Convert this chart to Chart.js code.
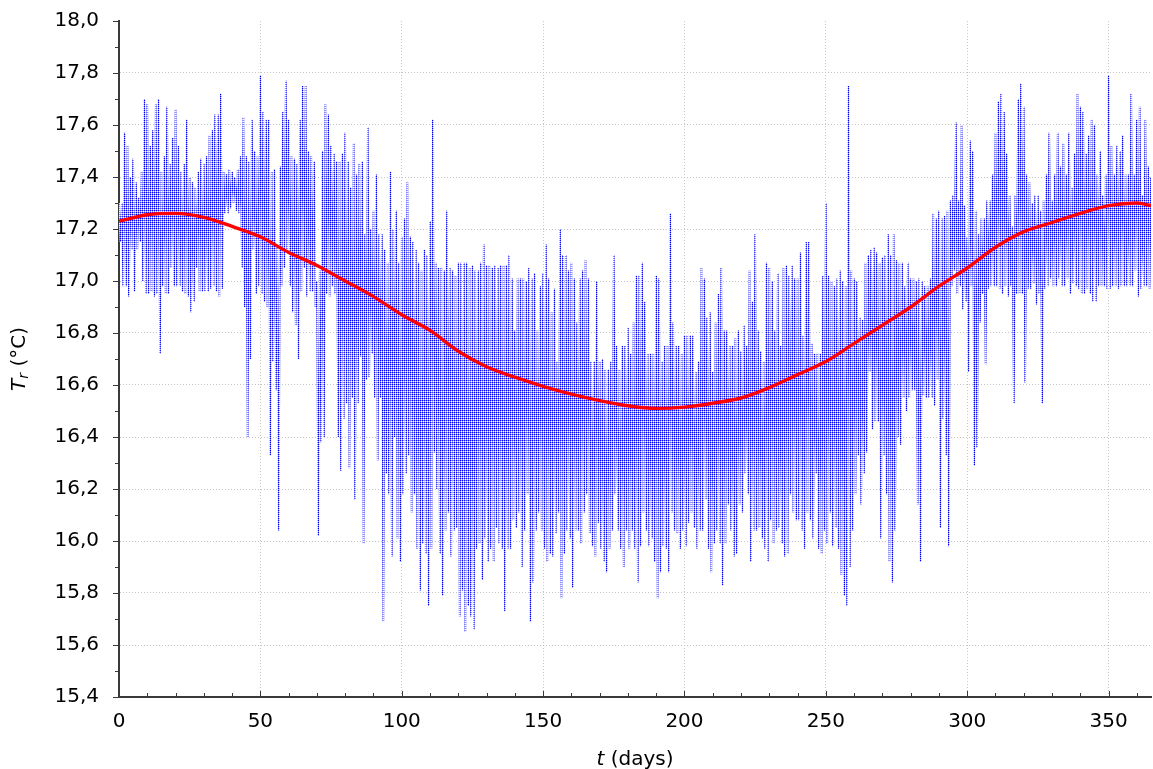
<!DOCTYPE html>
<html><head><meta charset="utf-8">
<script src="https://cdn.jsdelivr.net/npm/chart.js@4.4.1/dist/chart.umd.min.js"></script>
<style>html,body{margin:0;padding:0;background:#fff;}canvas{display:block;}</style>
</head><body>
<canvas id="c" width="1153" height="769"></canvas>
<script>
// Daily upper envelope of the measured series (one value per day, 0..365)
const blueHigh = [
17.30,17.30,17.57,17.52,17.40,17.47,17.38,17.32,17.42,17.70,
17.68,17.52,17.58,17.68,17.70,17.42,17.48,17.67,17.45,17.55,
17.66,17.52,17.42,17.45,17.62,17.40,17.38,17.36,17.42,17.47,
17.45,17.48,17.56,17.58,17.64,17.64,17.72,17.42,17.41,17.43,
17.42,17.40,17.43,17.48,17.63,17.48,17.46,17.62,17.50,17.48,
17.79,17.65,17.62,17.62,17.42,17.43,17.14,17.44,17.65,17.77,
17.62,17.48,17.47,17.45,17.62,17.75,17.75,17.50,17.48,17.46,
17.00,17.04,17.50,17.68,17.64,17.52,17.49,17.46,17.46,17.49,
17.57,17.46,17.36,17.53,17.41,17.45,17.46,17.18,17.59,17.20,
17.27,17.41,17.18,17.18,17.12,17.07,17.42,17.20,17.27,17.07,
17.17,17.24,17.38,17.17,17.15,17.12,17.07,17.04,17.12,17.10,
17.23,17.62,17.07,17.05,17.05,17.04,17.27,17.05,17.04,17.02,
17.07,17.07,17.07,17.07,17.05,17.06,17.04,17.04,17.07,17.14,
17.06,17.06,17.05,17.06,17.05,17.06,17.06,17.06,17.10,17.01,
16.81,17.01,17.01,17.01,17.00,17.05,17.01,17.03,16.81,16.98,
17.03,17.14,17.01,16.88,16.97,16.69,17.20,17.10,17.10,17.04,
17.07,17.01,16.84,17.01,17.04,17.08,17.01,16.69,16.69,17.00,
16.69,16.70,16.66,16.66,16.69,17.10,16.75,16.66,16.75,16.75,
16.82,16.72,16.84,17.02,17.02,17.07,16.92,16.72,16.72,16.72,
17.02,17.01,16.69,16.75,16.75,17.26,16.84,16.75,16.75,16.72,
16.79,16.79,16.79,16.79,16.65,16.69,17.05,17.01,16.86,16.88,
16.65,16.84,16.95,17.05,16.81,16.81,16.75,16.75,16.78,16.81,
16.73,16.83,16.75,17.04,16.92,17.18,16.81,16.73,16.69,17.07,
17.05,17.00,16.81,17.03,16.75,17.05,17.06,17.02,17.06,17.01,
17.01,17.11,16.79,17.15,17.15,16.76,16.72,16.72,16.72,17.02,
17.30,17.02,17.00,16.98,17.01,17.04,17.00,16.98,17.75,17.04,
17.01,17.00,16.86,16.85,17.07,17.10,17.12,17.13,17.11,17.07,
17.09,17.10,17.18,17.10,17.18,17.08,17.07,17.07,16.98,17.07,
17.01,17.01,17.00,17.01,17.00,16.98,16.98,17.01,17.26,17.24,
17.27,17.24,17.25,17.27,17.31,17.33,17.61,17.31,17.60,17.29,
17.17,17.54,17.50,17.27,17.18,17.24,17.24,17.31,17.31,17.41,
17.57,17.69,17.72,17.65,17.49,17.33,17.21,17.33,17.70,17.76,
17.67,17.41,17.38,17.30,17.33,17.33,17.27,17.31,17.41,17.57,
17.31,17.41,17.57,17.44,17.53,17.41,17.57,17.36,17.49,17.72,
17.67,17.65,17.49,17.56,17.62,17.60,17.41,17.50,17.33,17.41,
17.79,17.52,17.41,17.52,17.50,17.56,17.41,17.41,17.72,17.41,
17.62,17.67,17.33,17.62,17.44,17.40
];
// Daily lower envelope of the measured series (one value per day, 0..365)
const blueLow = [
17.15,16.98,16.98,16.94,17.12,16.96,17.12,17.15,17.00,16.95,
16.95,16.96,16.94,16.95,16.72,16.98,16.95,16.95,17.05,16.98,
16.98,16.98,16.96,16.95,16.94,16.88,16.92,17.05,16.96,16.96,
16.96,16.96,16.97,16.98,16.96,16.94,16.97,17.26,17.26,17.28,
17.30,17.27,17.26,17.05,16.90,16.40,16.70,17.12,16.95,16.98,
16.95,16.92,16.90,16.33,16.69,16.58,16.04,16.98,17.05,17.12,
16.98,16.88,16.83,16.70,16.96,17.05,16.94,16.96,16.96,16.90,
16.02,16.38,16.40,16.95,16.94,16.98,16.95,16.40,16.27,16.47,
16.53,16.28,16.55,16.16,16.53,16.71,15.99,16.62,16.63,16.72,
16.55,16.31,16.55,15.69,16.26,16.18,15.94,16.40,16.01,15.92,
16.18,16.26,16.33,16.11,16.18,15.97,15.81,15.99,15.95,15.75,
15.97,16.34,16.20,15.95,15.79,16.04,16.11,15.94,16.04,16.05,
15.71,15.81,15.65,15.75,15.71,15.66,15.97,15.99,15.85,16.01,
15.92,15.97,15.92,16.05,15.99,15.97,15.73,15.97,15.97,16.08,
16.05,16.11,15.90,16.04,16.18,15.69,15.84,16.04,16.11,16.04,
15.97,15.92,15.95,15.94,16.03,16.11,15.78,15.95,16.04,16.01,
15.82,16.04,16.04,15.99,16.11,16.18,16.03,15.98,15.94,16.07,
15.97,15.92,15.88,15.97,16.04,16.18,16.04,15.97,15.90,16.04,
15.97,16.04,15.97,15.84,15.98,16.11,16.04,15.98,16.01,15.92,
15.78,15.88,15.98,15.97,15.88,16.11,16.04,16.03,15.97,16.04,
15.98,16.07,16.11,16.05,15.97,16.04,16.04,16.16,15.97,15.88,
15.99,16.04,15.99,15.83,15.99,16.14,16.04,15.94,15.95,16.14,
16.11,16.26,16.18,15.92,16.04,16.04,16.05,16.01,15.97,15.92,
16.08,15.99,16.04,16.05,15.99,15.94,15.95,16.18,16.11,16.08,
16.08,16.04,15.97,16.11,16.08,16.01,16.26,15.97,15.95,16.04,
15.99,16.11,15.98,16.05,15.97,15.87,15.79,15.75,15.90,16.04,
16.18,16.33,16.14,16.26,16.34,16.65,16.43,16.46,16.46,16.01,
16.33,16.18,15.92,15.84,16.04,16.40,16.37,16.55,16.50,16.55,
16.58,16.58,16.14,15.92,16.56,16.55,16.55,16.55,16.52,16.62,
16.05,16.47,16.33,15.98,16.98,17.04,16.95,16.98,16.89,16.92,
16.65,16.98,16.29,16.36,16.84,16.95,16.68,16.97,16.98,16.98,
16.98,16.97,16.95,16.98,16.94,16.98,16.53,16.95,16.95,16.95,
16.61,16.97,16.97,16.99,16.91,16.95,16.53,16.97,16.98,17.01,
16.98,16.98,17.01,16.98,16.98,17.01,16.95,16.99,16.98,16.97,
16.95,16.95,16.97,16.95,16.92,16.92,16.98,16.98,16.98,16.97,
16.97,16.98,16.98,16.97,16.98,16.98,16.98,16.98,16.98,17.04,
16.94,16.97,16.98,16.98,16.97,16.97
];
// Smooth seasonal fit (red curve)
const redDays   = [0,10,20,30,40,50,60,70,80,90,100,110,120,130,140,150,160,170,180,190,200,210,220,230,240,250,260,270,280,290,300,310,320,330,340,350,360,365];
const redValues = [17.23,17.255,17.26,17.245,17.21,17.17,17.11,17.06,17.00,16.94,16.87,16.81,16.73,16.67,16.63,16.595,16.565,16.54,16.52,16.51,16.515,16.53,16.55,16.59,16.64,16.69,16.76,16.83,16.90,16.98,17.05,17.13,17.19,17.225,17.26,17.29,17.30,17.29];

const xMin = 0, xMax = 365, xStep = 50, xMinorStep = 10;
const yMin = 15.4, yMax = 18.0, yStep = 0.2, yMinorStep = 0.1;
const xTitleVar = 't', xTitleUnit = ' (days)';
const yTitleVar = 'T', yTitleSub = 'r', yTitleUnit = ' (°C)';

const FONT = '"DejaVu Sans", Verdana, sans-serif';

const bluePts = [];
for (let d = 0; d < blueHigh.length; d++) {
  bluePts.push({x: d, y: blueHigh[d]});
  bluePts.push({x: d + 0.5, y: blueLow[d]});
}
const redPts = redDays.map((d, i) => ({x: d, y: redValues[i]}));

// dotted blue texture for the dense measured series
function dotPattern() {
  const off = document.createElement('canvas');
  off.width = 2; off.height = 2;
  const g = off.getContext('2d');
  g.fillStyle = '#ffffff'; g.fillRect(0, 0, 2, 2);
  g.fillStyle = '#0000ff'; g.fillRect(0, 0, 1, 1);
  g.fillStyle = '#9090ff'; g.fillRect(1, 0, 1, 1); g.fillRect(0, 1, 1, 1);
  return g.createPattern(off, 'repeat');
}

const bgPlugin = {
  id: 'bg',
  beforeDraw(chart) {
    const c = chart.ctx; c.save(); c.fillStyle = '#fff';
    c.fillRect(0, 0, chart.width, chart.height); c.restore();
  }
};

const tickPlugin = {
  id: 'ticksIn',
  afterDraw(chart) {
    const c = chart.ctx, xs = chart.scales.x, ys = chart.scales.y, a = chart.chartArea;
    c.save();
    c.strokeStyle = '#3a3a3a'; c.lineWidth = 1;
    c.beginPath();
    for (let v = xMin; v <= xMax + 1e-9; v += xMinorStep) {
      const px = Math.round(xs.getPixelForValue(v)) + 0.5;
      const len = (v % xStep === 0) ? 6 : 4;
      c.moveTo(px, a.bottom); c.lineTo(px, a.bottom - len);
    }
    const n = Math.round((yMax - yMin) / yMinorStep);
    for (let i = 0; i <= n; i++) {
      const v = yMin + i * yMinorStep;
      const py = Math.round(ys.getPixelForValue(v)) + 0.5;
      const len = (i % 2 === 0) ? 6 : 4;
      c.moveTo(a.left, py); c.lineTo(a.left - len, py);
    }
    c.stroke();
    c.restore();
  }
};

const titlePlugin = {
  id: 'axisTitles',
  afterDraw(chart) {
    const c = chart.ctx, a = chart.chartArea;
    c.save();
    c.fillStyle = '#000';
    c.textBaseline = 'alphabetic';
    c.textAlign = 'left';
    const fN = '20px ' + FONT, fI = 'italic 20px ' + FONT, fS = 'italic 14px ' + FONT;
    c.font = fI; const w1 = c.measureText(xTitleVar).width;
    c.font = fN; const w2 = c.measureText(xTitleUnit).width;
    const x0 = (a.left + a.right) / 2 - (w1 + w2) / 2;
    c.font = fI; c.fillText(xTitleVar, x0, 765);
    c.font = fN; c.fillText(xTitleUnit, x0 + w1, 765);
    // y title
    c.translate(25, (a.top + a.bottom) / 2);
    c.rotate(-Math.PI / 2);
    c.font = fI; const t1 = c.measureText(yTitleVar).width;
    c.font = fS; const t2 = c.measureText(yTitleSub).width;
    c.font = fN; const t3 = c.measureText(yTitleUnit).width;
    let s = -(t1 + t2 + t3) / 2;
    c.font = fI; c.fillText(yTitleVar, s, 0);
    c.font = fS; c.fillText(yTitleSub, s + t1, 3);
    c.font = fN; c.fillText(yTitleUnit, s + t1 + t2, 0);
    c.restore();
  }
};

const gridColor = (ctx, edges) => {
  const v = ctx.tick ? ctx.tick.value : null;
  if (v === null) return 'rgba(0,0,0,0)';
  for (const e of edges) if (Math.abs(v - e) < 1e-6) return 'rgba(0,0,0,0)';
  return '#c4c4c4';
};

new Chart(document.getElementById('c'), {
  type: 'line',
  data: {
    datasets: [
      {
        label: 'fit', data: redPts, order: 0,
        borderColor: '#ff0000', borderWidth: 3.4, pointRadius: 0,
        cubicInterpolationMode: 'monotone', fill: false
      },
      {
        label: 'measured', data: bluePts, order: 1,
        borderColor: dotPattern(), borderWidth: 1.6,
        pointRadius: 0, tension: 0, fill: false
      }
    ]
  },
  options: {
    responsive: false,
    devicePixelRatio: 1,
    animation: false,
    parsing: false,
    layout: {padding: {top: 21, right: 2, left: 0, bottom: 0}, autoPadding: false},
    plugins: {legend: {display: false}, tooltip: {enabled: false}},
    scales: {
      x: {
        type: 'linear', min: xMin, max: xMax,
        afterFit: s => { s.height = 72; s.paddingLeft = 0; s.paddingRight = 0; },
        ticks: {
          stepSize: xStep, includeBounds: false, padding: 13, maxRotation: 0,
          color: '#000', font: {family: FONT, size: 20},
          callback: v => String(v)
        },
        grid: {color: ctx => gridColor(ctx, [xMin, xMax]), lineWidth: 1, drawTicks: false},
        border: {display: true, color: '#3a3a3a', width: 2, dash: [1, 2]}
      },
      y: {
        type: 'linear', min: yMin, max: yMax,
        afterFit: s => { s.width = 119; s.paddingTop = 0; s.paddingBottom = 0; },
        ticks: {
          stepSize: yStep, padding: 20,
          color: '#000', font: {family: FONT, size: 20},
          callback: v => Number(v).toFixed(1).replace('.', ',')
        },
        grid: {color: ctx => gridColor(ctx, [yMin, yMax]), lineWidth: 1, drawTicks: false},
        border: {display: true, color: '#3a3a3a', width: 2, dash: [1, 2]}
      }
    }
  },
  plugins: [bgPlugin, tickPlugin, titlePlugin]
});
</script>
</body></html>
